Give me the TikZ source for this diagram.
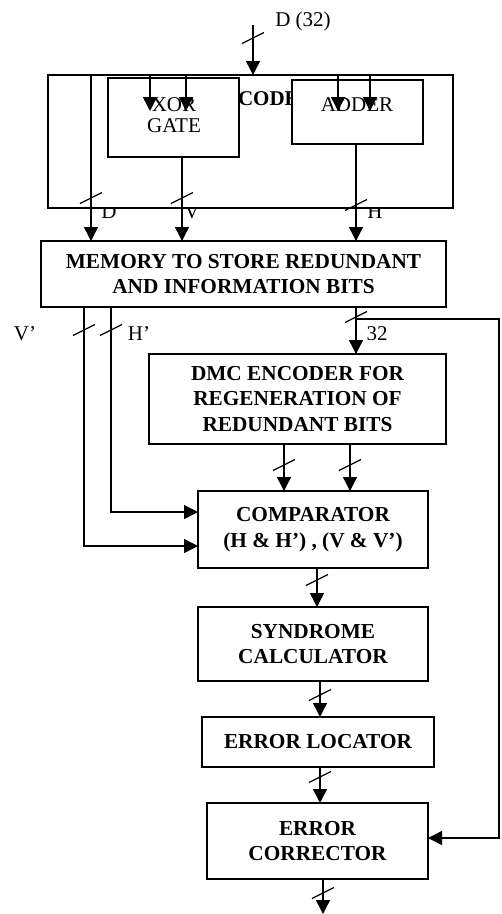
\documentclass[tikz,border=0pt]{standalone}
\usepackage{fontspec}
\setmainfont{Liberation Serif}
\usetikzlibrary{arrows.meta,calc}
\begin{document}
\begin{tikzpicture}[x=1pt,y=-1pt,
  every node/.style={inner sep=0pt,outer sep=0pt},
  box/.style={draw,line width=1.4pt,fill=white,anchor=north west,align=center,
    font=\fontsize{21.3}{25.5}\selectfont\bfseries},
  rt/.style={font=\fontsize{21}{21}\selectfont,align=center},
  ln/.style={line width=1.4pt},
  arr/.style={ln,-{Triangle[length=14pt,width=14pt]}},
  bus/.pic={\draw[line width=1.3pt,-] (-11pt,-5.5pt) -- (11pt,5.5pt);}
]
\useasboundingbox (0,0) rectangle (502,914);

% labels partly hidden by the coder box
\node[rt,anchor=base] (lD) at (109,218) {D};
\node[rt,anchor=base] (lV) at (192,218) {V};
\node[rt,anchor=base] (lH) at (375,218) {H};

% coder
\node[box,minimum width=405pt,minimum height=133pt] (coder) at (48,75) {};
\node[font=\fontsize{21}{25.5}\selectfont\bfseries,anchor=west] (codert) at (238,99) {CODER};
\node[box,font=\fontsize{21}{21}\selectfont\mdseries,minimum width=131pt,minimum height=79pt] (xor) at (108,78) {};
\node[rt] (xort) at (174,115) {XOR\\GATE};
\node[box,font=\fontsize{21}{21}\selectfont\mdseries,minimum width=131pt,minimum height=64pt] (adder) at (292,80) {};
\node[rt] (addert) at (357,105) {ADDER};

% main boxes
\node[box,minimum width=405pt,minimum height=66pt] (mem) at (41,241) {MEMORY TO STORE REDUNDANT\\AND INFORMATION BITS};
\node[box,minimum width=297pt,minimum height=90pt] (dmc) at (149,354) {DMC ENCODER FOR\\REGENERATION OF\\REDUNDANT BITS};
\node[box,minimum width=230pt,minimum height=77pt] (comp) at (198,491) {COMPARATOR\\(H \& H’) , (V \& V’)};
\node[box,minimum width=230pt,minimum height=74pt] (syn) at (198,607) {SYNDROME\\CALCULATOR};
\node[box,minimum width=232pt,minimum height=50pt] (loc) at (202,717) {ERROR LOCATOR};
\node[box,minimum width=221pt,minimum height=76pt] (cor) at (207,803) {ERROR\\CORRECTOR};

% other labels
\node[rt] (lin) at (303,21) {D (32)};
\node[rt,anchor=base] (lVp) at (25,340) {V’};
\node[rt,anchor=base] (lHp) at (139,340) {H’};
\node[rt,anchor=base] (l32) at (377,340) {32};

% helper coordinates
\coordinate (inD) at (253,25);
\coordinate (xa1) at (150,111);
\coordinate (xa2) at (186,111);
\coordinate (aa1) at (338,111);
\coordinate (aa2) at (370,111);
\coordinate (xd) at (91,0);
\coordinate (xv) at (182,0);
\coordinate (xh) at (356,0);
\coordinate (xvp) at (84,546);
\coordinate (xhp) at (111,512);
\coordinate (fb) at (356,319);
\coordinate (fr) at (499,319);
\coordinate (cy) at (0,838);
\coordinate (d1) at (284,0);
\coordinate (d2) at (350,0);
\coordinate (c1) at (317,0);
\coordinate (s1) at (320,0);
\coordinate (o1) at (323,914);

% connectors
\draw[arr] (inD) -- (coder.north -| inD);
\draw[arr] (coder.north -| xa1) -- (xa1);
\draw[arr] (coder.north -| xa2) -- (xa2);
\draw[arr] (coder.north -| aa1) -- (aa1);
\draw[arr] (coder.north -| aa2) -- (aa2);
\draw[arr] (coder.north -| xd) -- (mem.north -| xd);
\draw[arr] (xor.south -| xv) -- (mem.north -| xv);
\draw[arr] (adder.south -| xh) -- (mem.north -| xh);
\draw[arr] (mem.south -| xvp) |- (comp.west |- xvp);
\draw[arr] (mem.south -| xhp) |- (comp.west |- xhp);
\draw[arr] (mem.south -| xh) -- (dmc.north -| xh);
\draw[arr] (fb) -- (fr) |- (cor.east |- cy);
\draw[arr] (dmc.south -| d1) -- (comp.north -| d1);
\draw[arr] (dmc.south -| d2) -- (comp.north -| d2);
\draw[arr] (comp.south -| c1) -- (syn.north -| c1);
\draw[arr] (syn.south -| s1) -- (loc.north -| s1);
\draw[arr] (loc.south -| s1) -- (cor.north -| s1);
\draw[arr] (cor.south -| o1) -- (o1);

% bus slashes
\pic at (253,38) {bus};
\pic at (91,198) {bus};
\pic at (182,198) {bus};
\pic at (356,205) {bus};
\pic at (84,330) {bus};
\pic at (111,330) {bus};
\pic at (356,317) {bus};
\pic at (284,465) {bus};
\pic at (350,465) {bus};
\pic at (317,580) {bus};
\pic at (320,695) {bus};
\pic at (320,777) {bus};
\pic at (323,893) {bus};
\end{tikzpicture}
\end{document}
